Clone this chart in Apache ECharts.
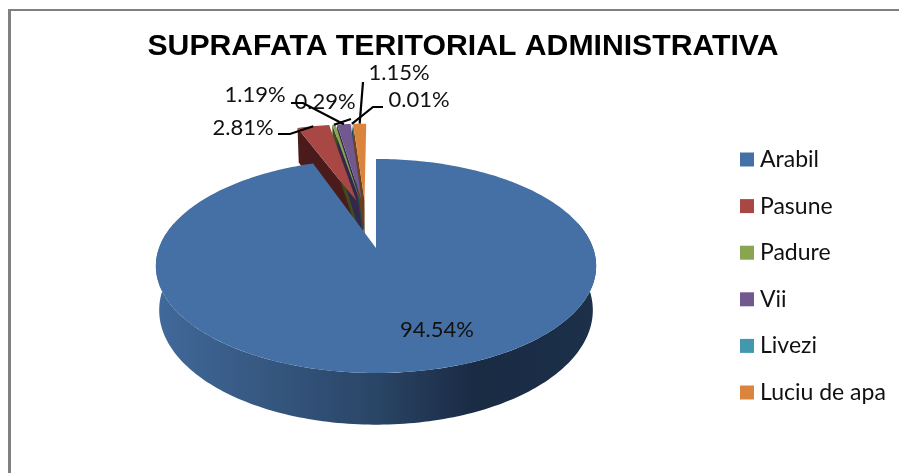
<!DOCTYPE html>
<html>
<head>
<meta charset="utf-8">
<title>Suprafata teritorial administrativa</title>
<style>
  html, body { margin: 0; padding: 0; background: #fff; }
  #chart { width: 899px; height: 473px; }
</style>
<script src="https://cdn.jsdelivr.net/npm/echarts@6/dist/echarts.min.js"></script>
</head>
<body>
<div id="chart"></div>
<script>
var categories = ['Arabil', 'Pasune', 'Padure', 'Vii', 'Livezi', 'Luciu de apa'];
var shares = [94.54, 2.81, 0.29, 1.19, 0.01, 1.15];

var colors = ['#4470a6', '#a84744', '#8aa54f', '#71588f', '#4198af', '#db843d'];
var wallColors = ['#2b4666', '#4a1b1a', '#3c4d20', '#33284a', '#1c4552', '#6b3f1c'];

// pie plane, tilted: apex on screen, radius, height, perspective and wall depth
var apexX = 376, apexY = 248, radiusX = 217, radiusY = 104, persp = 0.168, depth = 43;
var explode = 0.5, explodeMix = 0.35, explodeScaleX = 1.05, explodeShiftX = 1.5;

// label text position, leader elbows in screen pixels
var labelLayout = [
    { x: 437, y: 330, line: [] },
    { x: 243, y: 128, line: [[278, 134], [290, 134]] },
    { x: 325, y: 102, line: [[351, 119]] },
    { x: 255, y: 95, line: [[291, 103], [303, 103]] },
    { x: 419, y: 100, line: [[383, 107], [373, 107]] },
    { x: 399, y: 73, line: [[363, 82]] }
];

var total = shares.reduce(function (a, b) { return a + b; }, 0);

function sliceAngles(i) {
    var before = 0;
    for (var j = 0; j < i; j++) before += shares[j];
    return [before / total * Math.PI * 2, (before + shares[i]) / total * Math.PI * 2];
}

// slices after the first one are pulled out, nearly together as a block
function explodeOffset(i) {
    if (i === 0) return [0, 0];
    var a = sliceAngles(i);
    var mid = (a[0] + a[1]) / 2;
    var blockMid = (sliceAngles(1)[0] + Math.PI * 2) / 2;
    var dir = blockMid + (mid - blockMid) * explodeMix;
    return [explode * Math.sin(dir), explode * Math.cos(dir)];
}

// plane point -> screen. offset is the explode vector of the slice
function project(X, Y, offset, bottom) {
    var px = X + offset[0], py = Y + offset[1];
    var w = 1 + persp * py;
    var x = radiusX * px / w;
    var y = -radiusY * py / w;
    if (offset[0] !== 0 || offset[1] !== 0) x = x * explodeScaleX + explodeShiftX;
    if (bottom) {
        x *= 0.985;
        y += depth / w;
    }
    return [apexX + x, apexY + y];
}

function rimPoints(a0, a1, offset, bottom) {
    var pts = [];
    var n = Math.max(2, Math.ceil(Math.abs(a1 - a0) / 0.02));
    for (var i = 0; i <= n; i++) {
        var t = a0 + (a1 - a0) * i / n;
        pts.push(project(Math.sin(t), Math.cos(t), offset, bottom));
    }
    return pts;
}

function renderSlice(i) {
    return function () {
        var a = sliceAngles(i);
        var mid = (a[0] + a[1]) / 2;
        var offset = explodeOffset(i);
        var children = [];
        var apexTop = project(0, 0, offset, false);
        var top = [apexTop].concat(rimPoints(a[0], a[1], offset, false));

        if (i === 0) {
            // outer wall of the big slice, dark towards the right
            var lo = Math.PI * 0.42, hi = Math.PI * 1.58;
            var wall = rimPoints(lo, hi, offset, false).concat(rimPoints(hi, lo, offset, true));
            children.push({
                type: 'polygon',
                shape: { points: wall },
                style: {
                    fill: new echarts.graphic.LinearGradient(0, 0, 1, 0, [
                        { offset: 0, color: '#41699a' },
                        { offset: 0.5, color: '#2a4566' },
                        { offset: 0.72, color: '#1a2b44' },
                        { offset: 1, color: '#1c3049' }
                    ])
                },
                z2: 1
            });
        } else {
            // radial face on the left edge of an exploded slice
            var rimEnd = project(Math.sin(a[0]), Math.cos(a[0]), offset, false);
            children.push({
                type: 'polygon',
                shape: {
                    points: [
                        rimEnd,
                        project(Math.sin(a[0]), Math.cos(a[0]), offset, true),
                        project(0, 0, offset, true),
                        apexTop
                    ]
                },
                style: { fill: wallColors[i] },
                z2: 1
            });
        }
        children.push({ type: 'polygon', shape: { points: top }, style: { fill: colors[i] }, z2: 2 + i });

        // leader line ends on the rim at the middle of the slice
        var lay = labelLayout[i];
        if (lay.line.length) {
            var end = project(Math.sin(mid), Math.cos(mid), offset, false);
            children.push({
                type: 'polyline',
                shape: { points: lay.line.concat([end]) },
                style: { stroke: '#000', lineWidth: 2.2, fill: null },
                z2: 20
            });
        }
        children.push({
            type: 'text',
            style: {
                x: lay.x,
                y: lay.y,
                text: shares[i].toFixed(2) + '%',
                align: 'center',
                verticalAlign: 'middle',
                fill: '#111',
                font: '22px Lato'
            },
            z2: 19
        });
        return { type: 'group', children: children };
    };
}

var series = categories.map(function (name, i) {
    return {
        name: name,
        type: 'custom',
        coordinateSystem: 'none',
        // big slice goes over the apex of the exploded ones
        z: i === 0 ? 5 : 2,
        silent: true,
        itemStyle: { color: colors[i] },
        data: [[shares[i]]],
        renderItem: renderSlice(i)
    };
});

var chart = echarts.init(document.getElementById('chart'), null, { renderer: 'canvas' });

chart.setOption({
    animation: false,
    backgroundColor: '#fff',
    title: {
        text: 'SUPRAFATA TERITORIAL ADMINISTRATIVA',
        left: 458,
        textAlign: 'center',
        top: 27,
        textStyle: {
            color: '#000',
            fontFamily: 'Liberation Sans',
            fontWeight: 'bold',
            fontSize: 30.2
        }
    },
    legend: {
        data: categories,
        orient: 'vertical',
        left: 735,
        top: 143,
        icon: 'rect',
        itemWidth: 14,
        itemHeight: 14,
        itemGap: 23.6,
        selectedMode: false,
        textStyle: {
            color: '#111',
            fontFamily: 'Lato',
            fontSize: 23,
            padding: [0, 0, 0, 1],
            lineHeight: 22
        }
    },
    graphic: [
        { type: 'rect', shape: { x: 8, y: 9, width: 891, height: 2 }, style: { fill: '#808080' }, silent: true },
        { type: 'rect', shape: { x: 8, y: 9, width: 3, height: 464 }, style: { fill: '#808080' }, silent: true }
    ],
    series: series
});
</script>
</body>
</html>
